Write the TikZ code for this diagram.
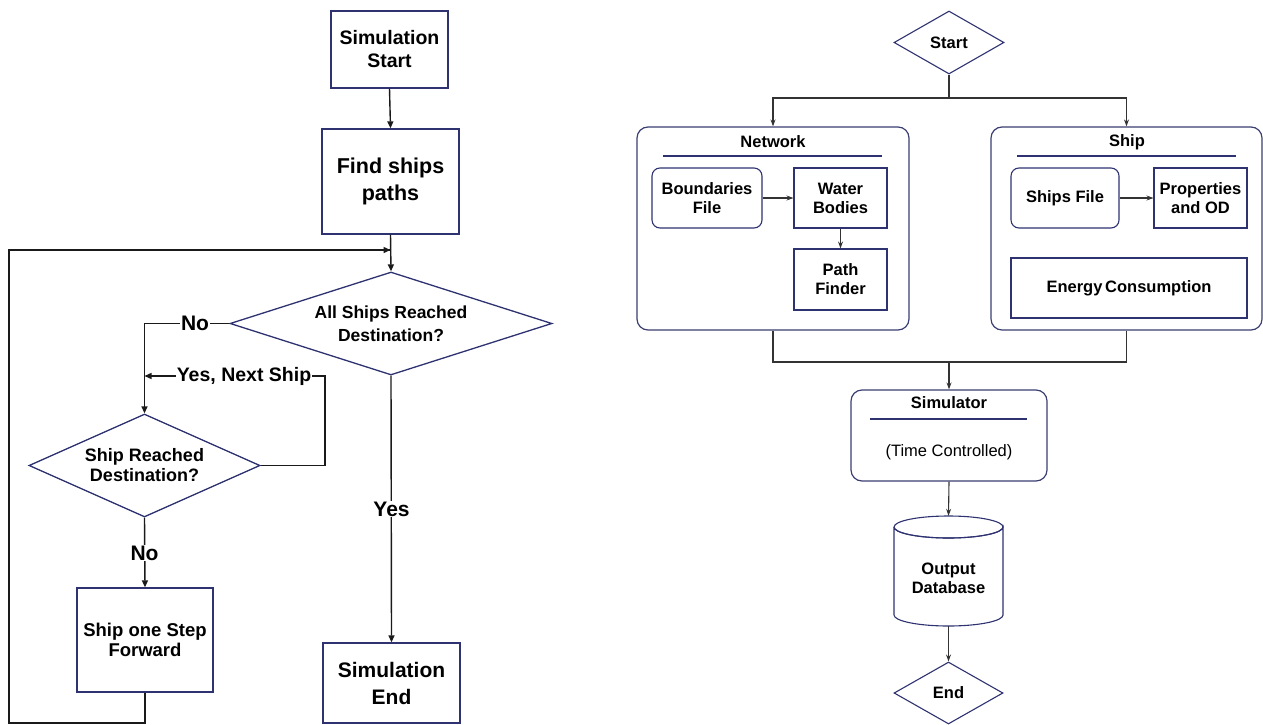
\documentclass[tikz,border=0pt]{standalone}
\usepackage{fontspec}
\setmainfont{Liberation Sans}
\usetikzlibrary{shapes.geometric,arrows.meta}
\definecolor{navy}{HTML}{2E3270}
\definecolor{ink}{HTML}{1A1A1A}
\definecolor{ink2}{HTML}{333333}
\begin{document}
\begin{tikzpicture}[x=1pt,y=-1pt,
  box/.style={draw=navy, line width=1.3pt, fill=white, align=center, inner sep=0pt, font=\bfseries},
  dia/.style={diamond, draw=navy, line width=1.3pt, fill=white, align=center, inner sep=0pt, font=\bfseries},
  rbox/.style={box, rounded corners=8pt},
  cont/.style={draw=navy!85!gray, line width=1.2pt, rounded corners=11pt, inner sep=0pt},
  rule/.style={draw=navy, line width=1.3pt},
  conn/.style={draw=ink, line width=1.4pt, -{Triangle[length=7pt,width=6pt]}},
  line/.style={draw=ink, line width=1.4pt},
  rconn/.style={draw=ink2, line width=1.1pt, -{Stealth[length=7pt,width=5pt]}},
  rline/.style={draw=ink2, line width=1.1pt},
  lbl/.style={fill=white, inner sep=1pt, font={\bfseries\fontsize{21}{24}\selectfont}},
  rf/.style={font={\bfseries\fontsize{16.5}{19}\selectfont}},
  rbx/.style={box, line width=1.1pt, rf},
  rrbx/.style={rbx, rounded corners=8pt}
]
\useasboundingbox (0,0) rectangle (1263,725);
% ---------------- left flowchart ----------------
\node[box, minimum width=117pt, minimum height=77pt, font={\bfseries\fontsize{19.5}{23}\selectfont}] (ss) at (389.5,49.5) {Simulation\\Start};
\node[box, minimum width=137pt, minimum height=105pt, font={\bfseries\fontsize{21.5}{27}\selectfont}] (fsp) at (390.5,181.5) {Find ships\\paths};
\node[dia, minimum width=322pt, minimum height=103pt, shape aspect=3.1, font={\bfseries\fontsize{17.5}{23}\selectfont}] (asr) at (391,323.5) {All Ships Reached\\Destination?};
\node[dia, minimum width=231pt, minimum height=103pt, shape aspect=2.2, font={\bfseries\fontsize{18}{20}\selectfont}] (srd) at (144.5,465.5) {Ship Reached\\Destination?};
\node[box, minimum width=136pt, minimum height=104pt, font={\bfseries\fontsize{18.5}{20.5}\selectfont}] (sosf) at (145,640) {Ship one Step\\Forward};
\node[box, minimum width=137pt, minimum height=80pt, font={\bfseries\fontsize{21}{27}\selectfont}] (se) at (391.5,683) {Simulation\\End};

\coordinate (loopin) at (390.5,250);
\coordinate (nocorner) at (144.5,323.5);
\coordinate (yescorner) at (325,465.5);
\coordinate (yesend) at (144.5,376);
\coordinate (lb) at (145,723);
\coordinate (lbl) at (9,723);
\coordinate (ltl) at (9,250);

\draw[conn] (ss.south) -- (fsp.north);
\draw[conn] (fsp.south) -- (asr.north);
\draw[conn] (asr.west) -- (nocorner) -- (srd.north);
\node[lbl] at (195,323.5) {No};
\draw[conn] (srd.east) -- (yescorner) |- (yesend);
\node[lbl, font={\bfseries\fontsize{19.5}{22}\selectfont}] at (244,376) {Yes, Next Ship};
\draw[conn] (srd.south) -- (sosf.north);
\node[lbl] at (144.5,553) {No};
\draw[conn] (asr.south) -- (se.north);
\node[lbl] at (391.5,509) {Yes};
\draw[line] (sosf.south) -- (lb) -- (lbl) -- (ltl) -- (loopin);
\draw[conn] (ltl) -- (loopin);

% ---------------- right flowchart ----------------
\node[dia, line width=1.1pt, minimum width=110pt, minimum height=63pt, shape aspect=1.75, rf] (start) at (949,42.5) {Start};

\node[cont, minimum width=272pt, minimum height=203pt] (net) at (773,228.5) {};
\node[cont, minimum width=271pt, minimum height=203pt] (ship) at (1126.5,228.5) {};

\node[rf] (nett) at (773,142) {Network};
\draw[rule] (663,156) -- (882,156);
\node[rrbx, minimum width=110pt, minimum height=60pt] (bf) at (707,198) {Boundaries\\File};
\node[rbx, minimum width=93pt, minimum height=60pt] (wb) at (840.5,198) {Water\\Bodies};
\node[rbx, minimum width=93pt, minimum height=61pt] (pf) at (840.5,279.5) {Path\\Finder};
\draw[rconn] (bf.east) -- (wb.west);
\draw[rconn] (wb.south) -- (pf.north);

\node[rf] (shipt) at (1127,142) {Ship};
\draw[rule] (1017,156) -- (1236,156);
\node[rrbx, minimum width=108pt, minimum height=60pt] (sf) at (1065,198) {Ships File};
\node[rbx, minimum width=93pt, minimum height=60pt] (pod) at (1200.5,198) {Properties\\and OD};
\node[rbx, minimum width=236pt, minimum height=60pt] (ec) at (1129,288) {Energy\,Consumption};
\draw[rconn] (sf.east) -- (pod.west);

\node[cont, minimum width=196pt, minimum height=91pt] (sim) at (949,435.5) {};
\node[rf] (simt) at (949,403) {Simulator};
\draw[rule] (870,419) -- (1027,419);
\node[font={\fontsize{16.5}{19}\selectfont}] (simtc) at (949,452) {(Time Controlled)};

% database cylinder
\node[minimum width=109pt, minimum height=110pt, inner sep=0pt] (db) at (948.5,571) {};
\draw[draw=navy, line width=1.1pt, fill=white] (894,527) -- (894,615) arc[start angle=180, end angle=360, x radius=54.5pt, y radius=11pt] -- (1003,527) arc[start angle=0, end angle=-180, x radius=54.5pt, y radius=11pt];
\draw[draw=navy, line width=1.1pt] (948.5,527) ellipse[x radius=54.5pt, y radius=11pt];
\node[rf, align=center] at (948.5,578) {Output\\Database};

\node[dia, line width=1.1pt, minimum width=109pt, minimum height=62pt, shape aspect=1.75, rf] (end) at (948.5,693) {End};

% connectors
\coordinate (br) at (949,98);
\coordinate (jn) at (949,362);
\draw[rline] (start.south) -- (br);
\draw[rconn] (br) -| (net.north);
\draw[rconn] (br) -| (ship.north);
\draw[rline] (net.south) |- (jn) -| (ship.south);
\draw[rconn] (jn) -- (sim.north);
\draw[rconn] (sim.south) -- (db.north);
\draw[rconn] (db.south) -- (end.north);
\end{tikzpicture}
\end{document}
